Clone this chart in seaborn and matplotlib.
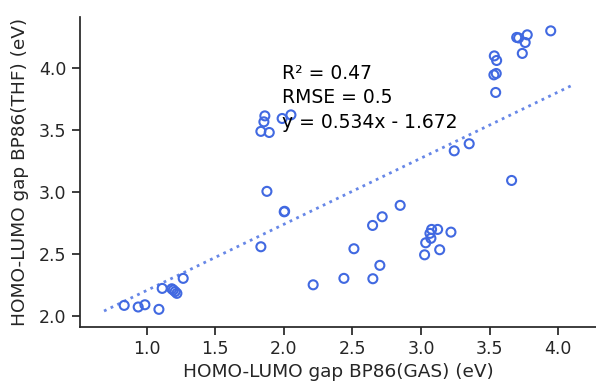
import numpy as np
import pandas as pd
import matplotlib
matplotlib.use("Agg")
import matplotlib.pyplot as plt
import seaborn as sns

# HOMO-LUMO gaps (eV), gas phase vs THF solvent, BP86 functional
gap_gas = [0.837, 0.939, 0.988, 1.090, 1.114, 1.184, 1.195, 1.208, 1.221, 1.267,
           1.833, 1.877, 2.003, 2.006, 2.214,
           1.862, 1.855, 1.833, 1.894, 1.988, 2.052,
           2.848, 2.717, 2.647, 2.511, 2.700, 2.438, 2.649,
           3.077, 3.121, 3.065, 3.072, 3.034, 3.218, 3.136, 3.026,
           3.660, 3.242, 3.351,
           3.945, 3.774, 3.697, 3.711, 3.759, 3.738, 3.534, 3.551, 3.531, 3.548, 3.544]
gap_thf = [2.086, 2.073, 2.091, 2.054, 2.223, 2.220, 2.210, 2.197, 2.183, 2.304,
           2.559, 3.006, 2.841, 2.845, 2.252,
           3.615, 3.567, 3.490, 3.481, 3.594, 3.623,
           2.893, 2.801, 2.731, 2.543, 2.409, 2.304, 2.301,
           2.699, 2.699, 2.667, 2.627, 2.591, 2.677, 2.535, 2.494,
           3.094, 3.333, 3.390,
           4.301, 4.269, 4.248, 4.244, 4.207, 4.119, 4.099, 4.062, 3.946, 3.957, 3.804]

# linear fit statistics
slope = 0.534
intercept = 1.672
r2 = 0.47
rmse = 0.5
fit_x = [0.69, 4.10]

xticks = [1.0, 1.5, 2.0, 2.5, 3.0, 3.5, 4.0]
yticks = [2.0, 2.5, 3.0, 3.5, 4.0]

sns.set_theme(style="ticks", context="notebook")
plt.rcParams["font.family"] = ["DejaVu Sans"]

fig = plt.figure(figsize=(5.96, 3.83), dpi=100)
ax = fig.add_axes([0.134, 0.147, 0.866, 0.809])

df = pd.DataFrame({"gas": gap_gas, "thf": gap_thf})
sns.scatterplot(data=df, x="gas", y="thf", ax=ax, s=42,
                facecolor="none", edgecolor="royalblue", linewidth=1.5)

fit_df = pd.DataFrame({"x": fit_x, "y": [slope * v + intercept for v in fit_x]})
sns.lineplot(data=fit_df, x="x", y="y", ax=ax, color="royalblue",
             linestyle=":", linewidth=2, alpha=0.8)

ax.text(1.99, 3.76, f"R\u00b2 = {r2}\nRMSE = {rmse}\ny = {slope}x - {intercept}",
        fontsize=13.5, va="center", ha="left", color="black", linespacing=1.35)

ax.set_xlim(0.514, 4.275)
ax.set_ylim(1.914, 4.414)
ax.set_xticks(xticks)
ax.set_yticks(yticks)
ax.tick_params(labelsize=12.5)
ax.set_xlabel("HOMO-LUMO gap BP86(GAS) (eV)", fontsize=13.3, labelpad=4)
ax.set_ylabel("HOMO-LUMO gap BP86(THF) (eV)", fontsize=13.3, labelpad=7)
sns.despine(ax=ax)

fig.savefig("out.png", dpi=100)
